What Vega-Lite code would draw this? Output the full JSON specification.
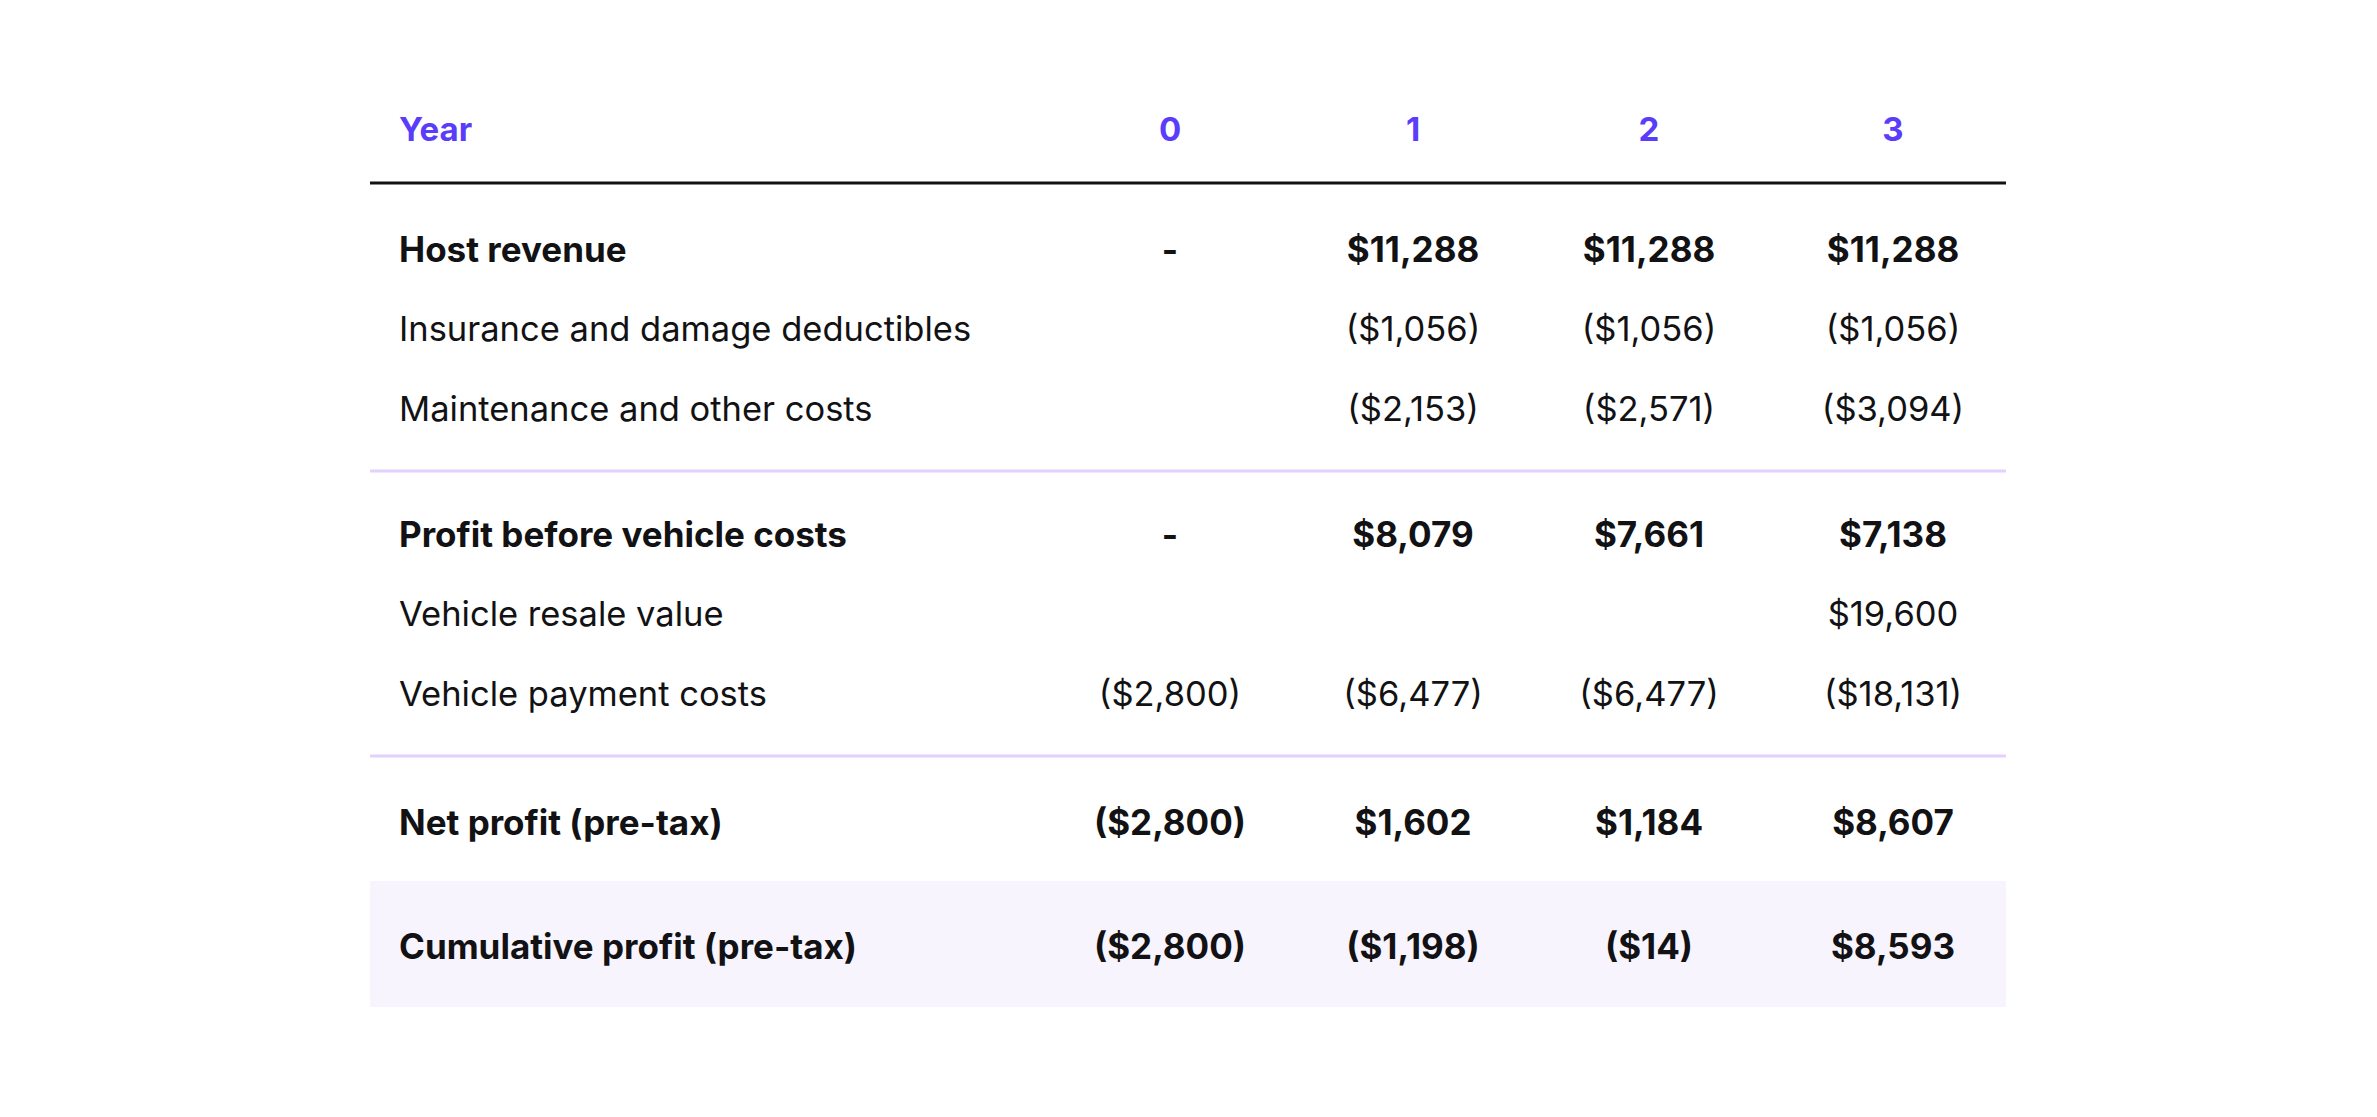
{
  "$schema": "https://vega.github.io/schema/vega-lite/v6.json",
  "width": 2377,
  "height": 1117,
  "autosize": {"type": "fit", "contains": "padding"},
  "padding": 0,
  "background": "white",
  "config": {"view": {"stroke": null}, "text": {"font": "Inter", "fontSize": 33, "baseline": "middle", "dy": 2}},
  "datasets": {
    "cells": [
      {"row": 0, "col": 0, "kind": "header", "text": "Year"},
      {"row": 0, "col": 1, "kind": "header", "text": "0"},
      {"row": 0, "col": 2, "kind": "header", "text": "1"},
      {"row": 0, "col": 3, "kind": "header", "text": "2"},
      {"row": 0, "col": 4, "kind": "header", "text": "3"},
      {"row": 1, "col": 0, "kind": "total", "text": "Host revenue"},
      {"row": 1, "col": 1, "kind": "total", "text": "-"},
      {"row": 1, "col": 2, "kind": "total", "text": "$11,288"},
      {"row": 1, "col": 3, "kind": "total", "text": "$11,288"},
      {"row": 1, "col": 4, "kind": "total", "text": "$11,288"},
      {"row": 2, "col": 0, "kind": "item", "text": "Insurance and damage deductibles"},
      {"row": 2, "col": 2, "kind": "item", "text": "($1,056)"},
      {"row": 2, "col": 3, "kind": "item", "text": "($1,056)"},
      {"row": 2, "col": 4, "kind": "item", "text": "($1,056)"},
      {"row": 3, "col": 0, "kind": "item", "text": "Maintenance and other costs"},
      {"row": 3, "col": 2, "kind": "item", "text": "($2,153)"},
      {"row": 3, "col": 3, "kind": "item", "text": "($2,571)"},
      {"row": 3, "col": 4, "kind": "item", "text": "($3,094)"},
      {"row": 4, "col": 0, "kind": "total", "text": "Profit before vehicle costs"},
      {"row": 4, "col": 1, "kind": "total", "text": "-"},
      {"row": 4, "col": 2, "kind": "total", "text": "$8,079"},
      {"row": 4, "col": 3, "kind": "total", "text": "$7,661"},
      {"row": 4, "col": 4, "kind": "total", "text": "$7,138"},
      {"row": 5, "col": 0, "kind": "item", "text": "Vehicle resale value"},
      {"row": 5, "col": 4, "kind": "item", "text": "$19,600"},
      {"row": 6, "col": 0, "kind": "item", "text": "Vehicle payment costs"},
      {"row": 6, "col": 1, "kind": "item", "text": "($2,800)"},
      {"row": 6, "col": 2, "kind": "item", "text": "($6,477)"},
      {"row": 6, "col": 3, "kind": "item", "text": "($6,477)"},
      {"row": 6, "col": 4, "kind": "item", "text": "($18,131)"},
      {"row": 7, "col": 0, "kind": "total", "text": "Net profit (pre-tax)"},
      {"row": 7, "col": 1, "kind": "total", "text": "($2,800)"},
      {"row": 7, "col": 2, "kind": "total", "text": "$1,602"},
      {"row": 7, "col": 3, "kind": "total", "text": "$1,184"},
      {"row": 7, "col": 4, "kind": "total", "text": "$8,607"},
      {"row": 8, "col": 0, "kind": "total", "text": "Cumulative profit (pre-tax)"},
      {"row": 8, "col": 1, "kind": "total", "text": "($2,800)"},
      {"row": 8, "col": 2, "kind": "total", "text": "($1,198)"},
      {"row": 8, "col": 3, "kind": "total", "text": "($14)"},
      {"row": 8, "col": 4, "kind": "total", "text": "$8,593"}
    ],
    "separators": [
      {"after": 0.5, "kind": "header"},
      {"after": 3.5, "kind": "group"},
      {"after": 6.5, "kind": "group"}
    ]
  },
  "layer": [
    {
      "data": {"values": [{"band": "cumulative"}]},
      "mark": {"type": "rect", "color": "#F8F4FE"},
      "encoding": {
        "x": {"datum": -0.5, "type": "quantitative", "axis": null, "scale": {"domain": [-0.5, 0, 1, 2, 3, 4, 4.5], "range": [370, 399, 1170, 1413, 1649, 1893, 2006], "zero": false, "nice": false}},
        "x2": {"datum": 4.5},
        "y": {"datum": 7.5, "type": "quantitative", "axis": null, "scale": {"domain": [0, 0.5, 1, 2, 3, 3.5, 4, 5, 6, 6.5, 7, 7.5, 8, 8.5], "range": [129, 183, 249, 329, 409, 471, 534, 614, 694, 756, 822, 881, 946, 1007], "zero": false, "nice": false}},
        "y2": {"datum": 8.5}
      }
    },
    {
      "data": {"name": "separators"},
      "mark": {"type": "rule", "strokeWidth": 3},
      "encoding": {
        "x": {"datum": -0.5, "type": "quantitative", "axis": null, "scale": {"domain": [-0.5, 0, 1, 2, 3, 4, 4.5], "range": [370, 399, 1170, 1413, 1649, 1893, 2006], "zero": false, "nice": false}},
        "x2": {"datum": 4.5},
        "y": {"field": "after", "type": "quantitative", "axis": null, "scale": {"domain": [0, 0.5, 1, 2, 3, 3.5, 4, 5, 6, 6.5, 7, 7.5, 8, 8.5], "range": [129, 183, 249, 329, 409, 471, 534, 614, 694, 756, 822, 881, 946, 1007], "zero": false, "nice": false}},
        "color": {"field": "kind", "type": "nominal", "legend": null, "scale": {"domain": ["header", "group"], "range": ["#121214", "#E3D0FC"]}}
      }
    },
    {
      "data": {"name": "cells"},
      "transform": [{"filter": "datum.kind == 'header' && datum.col == 0"}],
      "mark": {"type": "text", "align": "left", "fontWeight": 700, "color": "#5A3DFB"},
      "encoding": {
        "x": {"field": "col", "type": "quantitative", "axis": null, "scale": {"domain": [-0.5, 0, 1, 2, 3, 4, 4.5], "range": [370, 399, 1170, 1413, 1649, 1893, 2006], "zero": false, "nice": false}},
        "y": {"field": "row", "type": "quantitative", "axis": null, "scale": {"domain": [0, 0.5, 1, 2, 3, 3.5, 4, 5, 6, 6.5, 7, 7.5, 8, 8.5], "range": [129, 183, 249, 329, 409, 471, 534, 614, 694, 756, 822, 881, 946, 1007], "zero": false, "nice": false}},
        "text": {"field": "text"}
      }
    },
    {
      "data": {"name": "cells"},
      "transform": [{"filter": "datum.kind == 'header' && datum.col > 0"}],
      "mark": {"type": "text", "align": "center", "fontWeight": 700, "color": "#5A3DFB"},
      "encoding": {
        "x": {"field": "col", "type": "quantitative", "axis": null, "scale": {"domain": [-0.5, 0, 1, 2, 3, 4, 4.5], "range": [370, 399, 1170, 1413, 1649, 1893, 2006], "zero": false, "nice": false}},
        "y": {"field": "row", "type": "quantitative", "axis": null, "scale": {"domain": [0, 0.5, 1, 2, 3, 3.5, 4, 5, 6, 6.5, 7, 7.5, 8, 8.5], "range": [129, 183, 249, 329, 409, 471, 534, 614, 694, 756, 822, 881, 946, 1007], "zero": false, "nice": false}},
        "text": {"field": "text"}
      }
    },
    {
      "data": {"name": "cells"},
      "transform": [{"filter": "datum.kind == 'total' && datum.col == 0"}],
      "mark": {"type": "text", "align": "left", "fontWeight": 700, "fontSize": 35, "color": "#121214"},
      "encoding": {
        "x": {"field": "col", "type": "quantitative", "axis": null, "scale": {"domain": [-0.5, 0, 1, 2, 3, 4, 4.5], "range": [370, 399, 1170, 1413, 1649, 1893, 2006], "zero": false, "nice": false}},
        "y": {"field": "row", "type": "quantitative", "axis": null, "scale": {"domain": [0, 0.5, 1, 2, 3, 3.5, 4, 5, 6, 6.5, 7, 7.5, 8, 8.5], "range": [129, 183, 249, 329, 409, 471, 534, 614, 694, 756, 822, 881, 946, 1007], "zero": false, "nice": false}},
        "text": {"field": "text"}
      }
    },
    {
      "data": {"name": "cells"},
      "transform": [{"filter": "datum.kind == 'total' && datum.col > 0"}],
      "mark": {"type": "text", "align": "center", "fontWeight": 700, "fontSize": 35, "color": "#121214"},
      "encoding": {
        "x": {"field": "col", "type": "quantitative", "axis": null, "scale": {"domain": [-0.5, 0, 1, 2, 3, 4, 4.5], "range": [370, 399, 1170, 1413, 1649, 1893, 2006], "zero": false, "nice": false}},
        "y": {"field": "row", "type": "quantitative", "axis": null, "scale": {"domain": [0, 0.5, 1, 2, 3, 3.5, 4, 5, 6, 6.5, 7, 7.5, 8, 8.5], "range": [129, 183, 249, 329, 409, 471, 534, 614, 694, 756, 822, 881, 946, 1007], "zero": false, "nice": false}},
        "text": {"field": "text"}
      }
    },
    {
      "data": {"name": "cells"},
      "transform": [{"filter": "datum.kind == 'item' && datum.col == 0"}],
      "mark": {"type": "text", "align": "left", "fontWeight": 400, "fontSize": 34.5, "color": "#121214"},
      "encoding": {
        "x": {"field": "col", "type": "quantitative", "axis": null, "scale": {"domain": [-0.5, 0, 1, 2, 3, 4, 4.5], "range": [370, 399, 1170, 1413, 1649, 1893, 2006], "zero": false, "nice": false}},
        "y": {"field": "row", "type": "quantitative", "axis": null, "scale": {"domain": [0, 0.5, 1, 2, 3, 3.5, 4, 5, 6, 6.5, 7, 7.5, 8, 8.5], "range": [129, 183, 249, 329, 409, 471, 534, 614, 694, 756, 822, 881, 946, 1007], "zero": false, "nice": false}},
        "text": {"field": "text"}
      }
    },
    {
      "data": {"name": "cells"},
      "transform": [{"filter": "datum.kind == 'item' && datum.col > 0"}],
      "mark": {"type": "text", "align": "center", "fontWeight": 400, "fontSize": 34.5, "color": "#121214"},
      "encoding": {
        "x": {"field": "col", "type": "quantitative", "axis": null, "scale": {"domain": [-0.5, 0, 1, 2, 3, 4, 4.5], "range": [370, 399, 1170, 1413, 1649, 1893, 2006], "zero": false, "nice": false}},
        "y": {"field": "row", "type": "quantitative", "axis": null, "scale": {"domain": [0, 0.5, 1, 2, 3, 3.5, 4, 5, 6, 6.5, 7, 7.5, 8, 8.5], "range": [129, 183, 249, 329, 409, 471, 534, 614, 694, 756, 822, 881, 946, 1007], "zero": false, "nice": false}},
        "text": {"field": "text"}
      }
    }
  ]
}
